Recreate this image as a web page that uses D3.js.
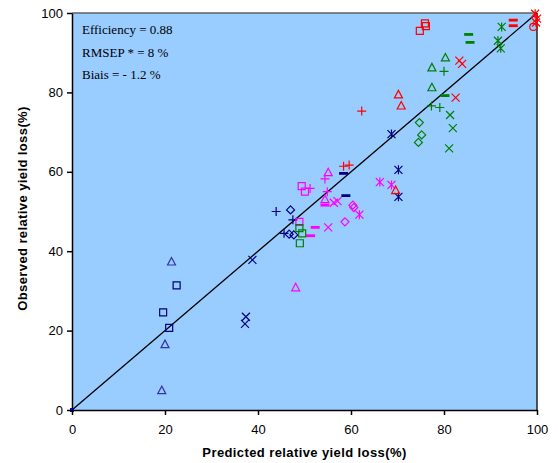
<!DOCTYPE html>
<html>
<head>
<meta charset="utf-8">
<script src="https://cdn.jsdelivr.net/npm/d3@7"></script>
<style>
  body { margin: 0; background: #fff; }
  .axis text { font-family: "Liberation Sans", Arial, sans-serif; font-size: 13px; fill: #000; }
  .axis path, .axis line { stroke: #000; }
  .title { font-family: "Liberation Sans", Arial, sans-serif; font-size: 13px; font-weight: bold; letter-spacing: 0.4px; }
  .note { font-family: "Liberation Serif", "Times New Roman", serif; font-size: 13px; fill: #000; }
</style>
</head>
<body>
<div id="chart"></div>
<script>
// Chart size and plot margins
const width = 558;
const height = 463;
const margin = {top: 13, right: 21, bottom: 53, left: 72};

// Axis ticks
const xTicks = [0, 20, 40, 60, 80, 100];
const yTicks = [0, 20, 40, 60, 80, 100];

// 1:1 reference line
const lineData = [0, 100];

// Statistics shown in the corner
const notes = ["Efficiency = 0.88", "RMSEP * = 8 %", "Biais = - 1.2 %"];

// Points as [predicted, observed]
const navySquares   = [[22.5, 31.4], [19.6, 24.6], [20.9, 20.7]];
const navyTriangles = [[21.4, 37.4], [20.0, 16.6], [19.3, 5.0]];
const navyCrosses   = [[38.8, 37.8], [37.4, 23.5], [37.2, 21.7]];
const navyPluses    = [[43.9, 50.0], [47.5, 47.9], [45.6, 44.5]];
const navyDiamonds  = [[47.0, 50.4], [46.7, 44.3], [47.7, 44.1]];
const navyStars     = [[68.7, 69.5], [70.2, 60.5], [70.2, 53.7]];
const navyDashes    = [[58.4, 59.6], [58.9, 54.0]];
const blueOrigin    = [[0, 0]];

const pinkSquares   = [[49.4, 56.4], [50.1, 55.0], [48.9, 47.4]];
const pinkTriangles = [[55.1, 59.9], [54.4, 53.1], [48.1, 30.9]];
const pinkPluses    = [[54.4, 58.2], [54.9, 55.0], [51.2, 55.8]];
const pinkDashes    = [[54.4, 51.6], [52.3, 46.0], [51.3, 43.9]];
const pinkCrosses   = [[56.3, 52.2], [57.1, 52.6], [55.1, 46.0]];
const pinkDiamonds  = [[60.4, 51.6], [60.6, 51.0], [58.7, 47.4]];
const pinkStars     = [[66.2, 57.4], [68.7, 56.7], [61.8, 49.2]];

const greenSquares   = [[48.9, 45.8], [49.5, 44.5], [49.0, 42.0]];
const greenTriangles = [[80.3, 88.8], [77.4, 86.3], [77.4, 81.3]];
const greenPluses    = [[80.0, 85.3], [77.3, 76.6], [79.1, 76.2]];
const greenDashes    = [[85.3, 94.6], [85.6, 92.6], [80.2, 79.2]];
const greenCrosses   = [[81.3, 74.3], [81.9, 71.0], [81.1, 65.9]];
const greenDiamonds  = [[74.7, 72.4], [75.2, 69.3], [74.5, 67.4]];
const greenStars     = [[92.4, 96.5], [91.6, 93.0], [92.2, 91.1]];

const redSquares   = [[74.8, 95.5], [75.9, 97.4], [76.1, 96.7]];
const redTriangles = [[70.2, 79.5], [70.8, 76.7], [69.6, 55.4]];
const redPluses    = [[62.3, 75.3], [58.4, 61.4], [59.6, 61.7]];
const redDashes    = [[94.9, 98.2], [94.9, 96.8]];
const redCrosses   = [[83.3, 88.0], [83.9, 87.2], [82.5, 78.7]];
const redStars     = [[99.6, 99.8], [100, 98.6], [99.8, 97.6]];
const redCircles   = [[99.2, 96.5]];

// Series styles built from the arrays above
const series = [
    {data: navySquares, color: "#000080", marker: "square"},
    {data: navyTriangles, color: "#3333aa", marker: "triangle"},
    {data: navyCrosses, color: "#000080", marker: "cross"},
    {data: navyPluses, color: "#000080", marker: "plus"},
    {data: navyDiamonds, color: "#000080", marker: "diamond"},
    {data: navyStars, color: "#000080", marker: "star"},
    {data: navyDashes, color: "#000080", marker: "dash"},
    {data: pinkSquares, color: "#ff00ff", marker: "square"},
    {data: pinkTriangles, color: "#ff00ff", marker: "triangle"},
    {data: pinkPluses, color: "#ff00ff", marker: "plus"},
    {data: pinkDashes, color: "#ff00ff", marker: "dash"},
    {data: pinkCrosses, color: "#ff00ff", marker: "cross"},
    {data: pinkDiamonds, color: "#ff00ff", marker: "diamond"},
    {data: pinkStars, color: "#ff00ff", marker: "star"},
    {data: greenSquares, color: "#008000", marker: "square"},
    {data: greenTriangles, color: "#008000", marker: "triangle"},
    {data: greenPluses, color: "#008000", marker: "plus"},
    {data: greenDashes, color: "#008000", marker: "dash"},
    {data: greenCrosses, color: "#008000", marker: "cross"},
    {data: greenDiamonds, color: "#008000", marker: "diamond"},
    {data: greenStars, color: "#008000", marker: "star"},
    {data: redSquares, color: "#ff0000", marker: "square"},
    {data: redTriangles, color: "#ff0000", marker: "triangle"},
    {data: redPluses, color: "#ff0000", marker: "plus"},
    {data: redDashes, color: "#ff0000", marker: "dash"},
    {data: redCrosses, color: "#ff0000", marker: "cross"},
    {data: redStars, color: "#ff0000", marker: "star"},
    {data: redCircles, color: "#ff0000", marker: "circle"},
    {data: blueOrigin, color: "#0000ff", marker: "dot"}
];

// Marker outlines, centred on 0,0
function markerPath(type) {
    const r = 3.5;
    switch (type) {
        case "square":   return `M${-r},${-r}h${2 * r}v${2 * r}h${-2 * r}Z`;
        case "triangle": return "M0,-4L4,3.5L-4,3.5Z";
        case "diamond":  return "M0,-4L4,0L0,4L-4,0Z";
        case "cross":    return "M-4,-4L4,4M-4,4L4,-4";
        case "plus":     return "M-4.5,0H4.5M0,-4.5V4.5";
        case "star":     return "M-4,-4L4,4M-4,4L4,-4M0,-4.5V4.5";
        case "dash":     return "M-4.5,-1.4H4.5V1.4H-4.5Z";
        case "circle":   return "M-3.5,0A3.5,3.5 0 1,0 3.5,0A3.5,3.5 0 1,0 -3.5,0";
        case "dot":      return "M-2,-2H2V2H-2Z";
    }
}

const svg = d3.select("#chart")
    .append("svg")
    .attr("width", width)
    .attr("height", height);

const x = d3.scaleLinear()
    .domain([0, 100])
    .range([margin.left, width - margin.right]);

const y = d3.scaleLinear()
    .domain([0, 100])
    .range([height - margin.bottom, margin.top]);

// Plot background
svg.append("rect")
    .attr("x", x(0))
    .attr("y", y(100))
    .attr("width", x(100) - x(0))
    .attr("height", y(0) - y(100))
    .attr("fill", "#99ccff");

// Plot border on the top and right
svg.append("line")
    .attr("x1", x(0)).attr("x2", x(100))
    .attr("y1", y(100)).attr("y2", y(100))
    .attr("stroke", "#606060")
    .attr("stroke-width", 1.5);

svg.append("line")
    .attr("x1", x(100)).attr("x2", x(100))
    .attr("y1", y(100)).attr("y2", y(0))
    .attr("stroke", "#222")
    .attr("stroke-width", 1.5);

// 1:1 line
const line = d3.line()
    .x(d => x(d))
    .y(d => y(d));

svg.append("path")
    .datum(lineData)
    .attr("d", line)
    .attr("stroke", "#000")
    .attr("stroke-width", 1.3)
    .attr("fill", "none");

// Markers
series.forEach(function(s) {
    const filled = s.marker === "dash" || s.marker === "dot";
    svg.append("g")
        .selectAll("path")
        .data(s.data)
        .join("path")
        .attr("transform", d => `translate(${x(d[0])},${y(d[1])})`)
        .attr("d", markerPath(s.marker))
        .attr("fill", filled ? s.color : "none")
        .attr("stroke", filled ? "none" : s.color)
        .attr("stroke-width", 1.2);
});

// Axes
svg.append("g")
    .attr("class", "axis")
    .attr("transform", `translate(0,${y(0)})`)
    .call(d3.axisBottom(x).tickValues(xTicks).tickSize(5).tickSizeOuter(0).tickPadding(10))
    .call(g => g.selectAll("path, line").attr("stroke-width", 1.5));

svg.append("g")
    .attr("class", "axis")
    .attr("transform", `translate(${x(0)},0)`)
    .call(d3.axisLeft(y).tickValues(yTicks).tickSize(5).tickSizeOuter(0).tickPadding(4))
    .call(g => g.selectAll("path, line").attr("stroke-width", 1.5));

// Axis titles
svg.append("text")
    .attr("class", "title")
    .attr("x", (x(0) + x(100)) / 2)
    .attr("y", 457)
    .attr("text-anchor", "middle")
    .text("Predicted relative yield loss(%)");

svg.append("text")
    .attr("class", "title")
    .attr("transform", `translate(27,${(y(0) + y(100)) / 2 - 3}) rotate(-90)`)
    .attr("text-anchor", "middle")
    .text("Observed relative yield loss(%)");

// Statistics text
svg.selectAll(".note")
    .data(notes)
    .join("text")
    .attr("class", "note")
    .attr("x", x(0) + 10)
    .attr("y", (d, i) => 34 + i * 22.5)
    .text(d => d);
</script>
</body>
</html>
